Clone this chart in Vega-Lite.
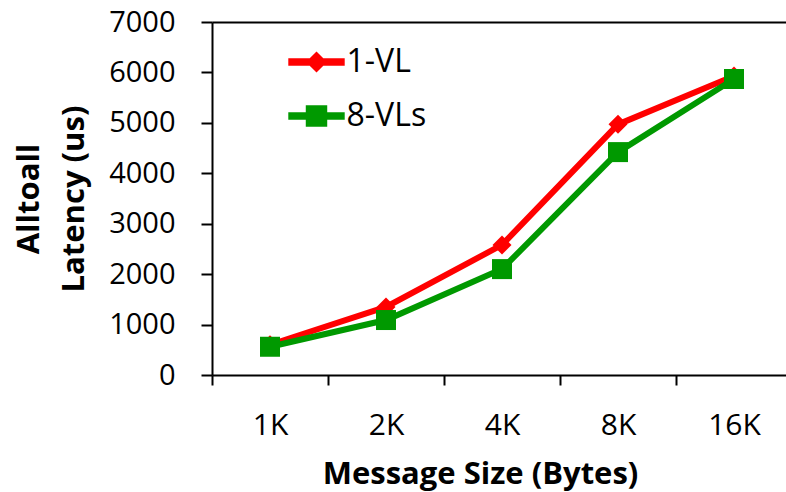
{
  "$schema": "https://vega.github.io/schema/vega-lite/v6.json",
  "autosize": "none",
  "width": 574,
  "height": 353,
  "padding": {"left": 212, "top": 22, "right": 0, "bottom": 117},
  "background": "white",
  "config": {
    "view": {"stroke": null},
    "font": "Open Sans",
    "axis": {"domainColor": "#000", "domainWidth": 2, "tickColor": "#000", "tickWidth": 2, "labelColor": "#000", "titleColor": "#000", "labelFont": "Open Sans", "titleFont": "Open Sans"}
  },
  "data": {
    "values": [
      {"size": "1K", "series": "1-VL", "latency": 600},
      {"size": "2K", "series": "1-VL", "latency": 1350},
      {"size": "4K", "series": "1-VL", "latency": 2580},
      {"size": "8K", "series": "1-VL", "latency": 4970},
      {"size": "16K", "series": "1-VL", "latency": 5930},
      {"size": "1K", "series": "8-VLs", "latency": 560},
      {"size": "2K", "series": "8-VLs", "latency": 1090},
      {"size": "4K", "series": "8-VLs", "latency": 2100},
      {"size": "8K", "series": "8-VLs", "latency": 4420},
      {"size": "16K", "series": "8-VLs", "latency": 5870}
    ]
  },
  "encoding": {
    "y": {
      "field": "latency", "type": "quantitative",
      "scale": {"domain": [0, 7000], "nice": false},
      "axis": {
        "title": ["Alltoall", "Latency (us)"], "values": [0, 1000, 2000, 3000, 4000, 5000, 6000, 7000], "format": "d",
        "tickSize": 11, "labelFontSize": 29, "labelPadding": 26, "grid": false,
        "titleFontSize": 31, "titleFontWeight": "bold", "titleLineHeight": 45,
        "titleX": -174, "titleY": 176.5, "titleBaseline": "alphabetic", "titleAlign": "center", "titleAngle": 270
      }
    },
    "color": {
      "field": "series", "type": "nominal",
      "scale": {"domain": ["1-VL", "8-VLs"], "range": ["#ff0000", "#009900"]},
      "legend": {
        "title": null, "orient": "none", "legendX": 88.5, "legendY": 24,
        "labelFontSize": 32, "labelFont": "Open Sans", "labelColor": "#000", "labelOffset": 14,
        "symbolSize": 361, "rowPadding": 22, "padding": 0,
        "encode": {
          "symbols": {
            "update": {
              "shape": {"signal": "datum.value === '1-VL' ? 'M-2.89,-0.32H2.89V0.32H-2.89Z M-1,0L0,-1L1,0L0,1Z' : 'M-2.89,-0.32H2.89V0.32H-2.89Z M-1.05,-1.05H1.05V1.05H-1.05Z'"},
              "fill": {"scale": "color", "field": "value"},
              "stroke": {"value": "transparent"},
              "opacity": {"value": 1},
              "fillOpacity": {"value": 1}
            }
          }
        }
      }
    }
  },
  "resolve": {"axis": {"x": "independent"}},
  "layer": [
    {
      "mark": {"type": "line", "strokeWidth": 6},
      "encoding": {
        "x": {
          "field": "size", "type": "nominal", "sort": ["1K", "2K", "4K", "8K", "16K"],
          "scale": {"type": "band", "range": [0, 580], "paddingInner": 0, "paddingOuter": 0},
          "axis": {
            "title": "Message Size (Bytes)", "orient": "bottom", "labelAngle": 0, "tickBand": "extent", "tickSize": 10,
            "labelFontSize": 30, "labelPadding": 25, "labelFont": "Open Sans",
            "titleFontSize": 31, "titleFontWeight": "bold", "titleX": 268, "titleY": 108, "titleBaseline": "alphabetic", "titleAnchor": null, "titleAlign": "center"
          }
        }
      }
    },
    {
      "transform": [{"filter": "datum.series === '1-VL'"}],
      "mark": {"type": "point", "filled": true, "opacity": 1, "shape": "diamond", "size": 361},
      "encoding": {
        "x": {
          "field": "size", "type": "nominal", "sort": ["1K", "2K", "4K", "8K", "16K"],
          "axis": {"orient": "top", "labels": false, "ticks": false, "title": null, "domain": true, "grid": false}
        }
      }
    },
    {
      "transform": [{"filter": "datum.series === '8-VLs'"}],
      "mark": {"type": "point", "filled": true, "opacity": 1, "shape": "square", "size": 400},
      "encoding": {
        "x": {"field": "size", "type": "nominal", "sort": ["1K", "2K", "4K", "8K", "16K"], "axis": null}
      }
    }
  ]
}
